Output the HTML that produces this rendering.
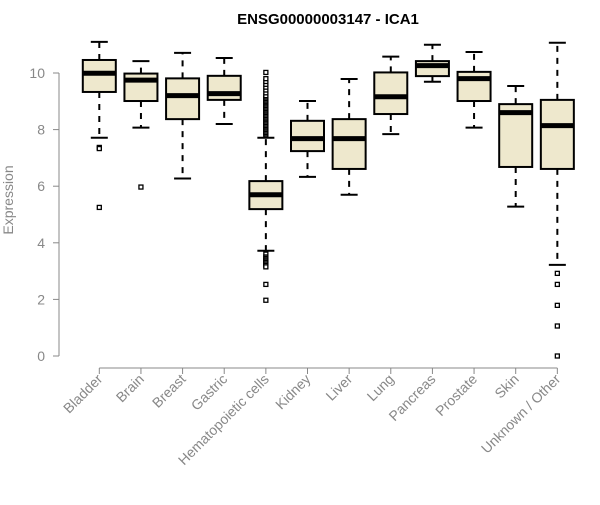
<!DOCTYPE html>
<html><head><meta charset="utf-8"><style>
html,body{margin:0;padding:0;background:#fff;}
svg text{font-family:"Liberation Sans",Arial,sans-serif;}
</style></head><body>
<svg id="chart" width="600" height="500" xmlns="http://www.w3.org/2000/svg">
<text x="328" y="24" text-anchor="middle" font-size="15" font-weight="bold">ENSG00000003147 - ICA1</text>
<text transform="translate(13,200) rotate(-90)" text-anchor="middle" font-size="14" fill="#888">Expression</text>
<g id="yaxis"></g>
<g id="xaxis"></g>
<g id="boxes"></g>
</svg>
<script>
const categories=["Bladder","Brain","Breast","Gastric","Hematopoietic cells","Kidney","Liver","Lung","Pancreas","Prostate","Skin","Unknown / Other"];
const whiskerLow=[7.71,8.07,6.27,8.2,3.72,6.33,5.7,7.84,9.69,8.07,5.28,3.22];
const q1=[9.33,9.01,8.37,9.05,5.19,7.24,6.61,8.55,9.89,9.01,6.68,6.61];
const medians=[9.99,9.75,9.2,9.27,5.7,7.68,7.68,9.16,10.26,9.8,8.6,8.14];
const q3=[10.46,9.98,9.81,9.9,6.18,8.31,8.37,10.02,10.42,10.04,8.9,9.05];
const whiskerHigh=[11.1,10.42,10.71,10.53,7.71,9.01,9.79,10.58,11.0,10.74,9.54,11.07];
const outliers=[[7.37,7.33,5.25],[5.97],[],[],[7.8,7.85,7.9,7.95,8.0,8.05,8.1,8.15,8.2,8.25,8.3,8.35,8.4,8.45,8.5,8.55,8.6,8.65,8.7,8.75,8.8,8.85,8.9,8.95,9.0,9.05,9.1,9.15,9.2,9.3,9.4,9.5,9.6,9.7,9.8,10.02,3.6,3.5,3.45,3.4,3.35,3.3,3.25,3.2,3.15,2.53,1.97],[],[],[],[],[],[],[2.92,2.53,1.79,1.06,0.0]];
const yTicks=[0,2,4,6,8,10];
const NS="http://www.w3.org/2000/svg";
function y(v){return 356-v*28.3;}
function x(i){return 99.3+i*41.64;}
function mk(tag,attrs,parent){const e=document.createElementNS(NS,tag);for(const k in attrs)e.setAttribute(k,attrs[k]);parent.appendChild(e);return e;}
const ya=document.getElementById('yaxis'),xa=document.getElementById('xaxis'),bx=document.getElementById('boxes');
let l=mk('line',{x1:59,x2:59,y1:y(0),y2:y(10),stroke:'#888','stroke-width':1},ya);


yTicks.forEach(t=>{
 let tk=mk('line',{x1:53,x2:59,y1:y(t),y2:y(t),stroke:'#888'},ya);
 
 
 let tx=mk('text',{x:45,y:y(t)+5,'text-anchor':'end','font-size':14,fill:'#888'},ya);
 
 
 tx.textContent=t;
});
l=mk('line',{x1:x(0),x2:x(11),y1:368,y2:368,stroke:'#888'},xa);


categories.forEach((c,i)=>{
 let tk=mk('line',{x1:x(i),x2:x(i),y1:368,y2:374,stroke:'#888'},xa);
 
 
 let tx=mk('text',{transform:`translate(${x(i)+4},${380}) rotate(-45)`,'text-anchor':'end','font-size':14,fill:'#888'},xa);
 
 
 tx.textContent=c;
 const g=mk('g',{},bx);
 
 
 const cx=x(i),hw=16.5,cw=8.5;
 mk('line',{x1:cx,x2:cx,y1:y(q3[i]),y2:y(whiskerHigh[i]),stroke:'#000','stroke-width':2,'stroke-dasharray':'6,6'},g);
 mk('line',{x1:cx,x2:cx,y1:y(q1[i]),y2:y(whiskerLow[i]),stroke:'#000','stroke-width':2,'stroke-dasharray':'6,6'},g);
 mk('line',{x1:cx-cw,x2:cx+cw,y1:y(whiskerHigh[i]),y2:y(whiskerHigh[i]),stroke:'#000','stroke-width':2},g);
 mk('line',{x1:cx-cw,x2:cx+cw,y1:y(whiskerLow[i]),y2:y(whiskerLow[i]),stroke:'#000','stroke-width':2},g);
 mk('rect',{x:cx-hw,y:y(q3[i]),width:2*hw,height:y(q1[i])-y(q3[i]),fill:'#EEE8CD',stroke:'#000','stroke-width':2},g);
 mk('line',{x1:cx-hw,x2:cx+hw,y1:y(medians[i]),y2:y(medians[i]),stroke:'#000','stroke-width':5},g);
 outliers[i].forEach(v=>{
  let p=mk('rect',{x:cx-2,y:y(v)-2,width:4,height:4,fill:'#fff',stroke:'#000','stroke-width':1.3},g);
  
  
 });
});
</script>
</body></html>
